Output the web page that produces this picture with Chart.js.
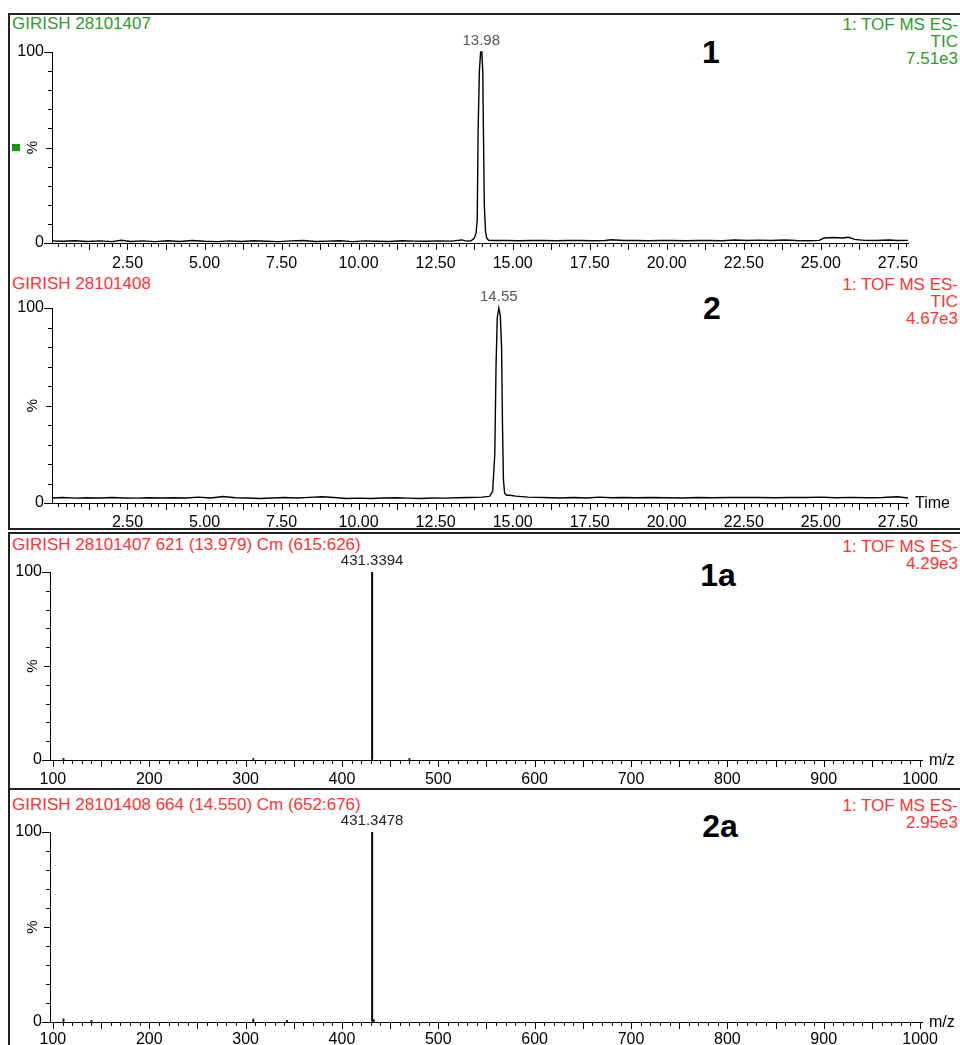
<!DOCTYPE html>
<html lang="en">
<head>
<meta charset="UTF-8">
<title>GIRISH TIC and spectra</title>
<script src="https://cdn.jsdelivr.net/npm/chart.js@4.4.0/dist/chart.umd.min.js"></script>
<style>
  body { margin: 0; background: #fff; }
  #page { position: relative; width: 960px; height: 1045px; overflow: hidden;
          font-family: "Liberation Sans", Arial, sans-serif; font-size: 17px; }
  .txt { position: absolute; left: 12px; line-height: 18px; white-space: nowrap; }
  .rt { position: absolute; right: 2px; text-align: right; line-height: 17px; white-space: nowrap; }
  .num { position: absolute; font-weight: bold; font-size: 32px; line-height: 36px; transform: translateX(-50%); }
  .ln { position: absolute; background: #222; }
  .green { color: #2c9c2c; }
  .red { color: #ff3333; }
  canvas { position: absolute; left: 0; }
</style>
</head>
<body>
<div id="page">
  <div class="ln" style="left:8px;top:13px;width:952px;height:2px"></div>
  <div class="ln" style="left:8px;top:13px;width:2px;height:517px"></div>
  <div class="ln" style="left:8px;top:528px;width:952px;height:2px"></div>
  <div class="ln" style="left:8px;top:532px;width:952px;height:2px"></div>
  <div class="ln" style="left:8px;top:532px;width:2px;height:513px"></div>
  <div class="ln" style="left:8px;top:788px;width:952px;height:2px"></div>
  <div style="position:absolute;left:12px;top:144px;width:8px;height:7px;background:#119911"></div>

  <div class="txt green" style="top:15px">GIRISH 28101407</div>
  <div class="rt green" style="top:16px">1: TOF MS ES-<br>TIC<br>7.51e3</div>
  <div class="num" style="left:711px;top:34px">1</div>

  <div class="txt red" style="top:275px">GIRISH 28101408</div>
  <div class="rt red" style="top:276px">1: TOF MS ES-<br>TIC<br>4.67e3</div>
  <div class="num" style="left:712px;top:290px">2</div>

  <div class="txt red" style="top:536px">GIRISH 28101407 621 (13.979) Cm (615:626)</div>
  <div class="rt red" style="top:538px">1: TOF MS ES-<br>4.29e3</div>
  <div class="num" style="left:718px;top:557px">1a</div>

  <div class="txt red" style="top:796px">GIRISH 28101408 664 (14.550) Cm (652:676)</div>
  <div class="rt red" style="top:797px">1: TOF MS ES-<br>2.95e3</div>
  <div class="num" style="left:720px;top:808px">2a</div>

  <canvas id="c1" width="960" height="245" style="top:30px"></canvas>
  <canvas id="c2" width="960" height="249" style="top:286px"></canvas>
  <canvas id="c3" width="960" height="240" style="top:550px"></canvas>
  <canvas id="c4" width="960" height="235" style="top:810px"></canvas>
</div>

<script>
// TIC 1 (28101407), time in min / % of max
const chromTime1 = [
  0.05, 0.4, 0.8, 1.2, 1.6, 2.0, 2.3, 2.6, 3.0, 3.4,
  3.8, 4.2, 4.6, 5.0, 5.4, 5.8, 6.2, 6.6, 7.0, 7.4,
  7.8, 8.2, 8.6, 9.0, 9.4, 9.8, 10.2, 10.6, 11.0, 11.4,
  11.8, 12.2, 12.6, 13.0, 13.35, 13.5, 13.65, 13.75, 13.81, 13.85,
  13.88, 13.92, 13.96, 14.0, 14.03, 14.05, 14.08, 14.12, 14.16, 14.22,
  14.4, 14.8, 15.2, 15.6, 16.0, 16.4, 16.8, 17.2, 17.6, 18.0,
  18.2, 18.6, 19.0, 19.4, 19.8, 20.2, 20.6, 21.0, 21.4, 21.8,
  22.2, 22.6, 23.0, 23.4, 23.8, 24.2, 24.6, 24.95, 25.1, 25.4,
  25.7, 25.9, 26.1, 26.4, 26.8, 27.2, 27.5, 27.83
];
const chromPct1 = [
  1.1, 0.9, 1.2, 0.8, 1.1, 0.7, 1.4, 0.8, 1.1, 0.7,
  1.2, 0.8, 1.3, 0.9, 0.7, 1.1, 0.8, 1.2, 0.9, 0.7,
  1.1, 1.3, 0.8, 1.0, 1.2, 0.7, 1.1, 0.9, 0.8, 1.2,
  1.0, 0.9, 1.1, 1.0, 1.6, 1.0, 1.2, 2.5, 5.0, 12.0,
  60, 90, 100, 100, 90, 60, 20, 6, 2.5, 1.4,
  1.3, 1.3, 1.2, 1.3, 1.3, 1.2, 1.3, 1.3, 1.2, 1.3,
  1.7, 1.3, 1.3, 1.2, 1.3, 1.3, 1.2, 1.3, 1.3, 1.2,
  1.6, 1.3, 1.5, 1.3, 1.6, 1.3, 1.2, 1.4, 2.6, 2.9,
  2.6, 3.0, 1.9, 1.4, 1.3, 1.6, 1.3, 1.4
];

// TIC 2 (28101408)
const chromTime2 = [
  0.05, 0.4, 0.8, 1.2, 1.6, 2.0, 2.4, 2.8, 3.2, 3.6,
  4.0, 4.4, 4.8, 5.2, 5.6, 6.0, 6.4, 6.8, 7.2, 7.6,
  8.0, 8.4, 8.8, 9.2, 9.6, 10.0, 10.4, 10.8, 11.2, 11.6,
  12.0, 12.4, 12.8, 13.2, 13.6, 14.0, 14.25, 14.35, 14.42, 14.46,
  14.5, 14.55, 14.6, 14.64, 14.67, 14.7, 14.74, 14.8, 14.9, 15.1,
  15.5, 16.0, 16.5, 17.0, 17.4, 17.8, 18.2, 18.6, 19.0, 19.5,
  20.0, 20.5, 21.0, 21.5, 22.0, 22.5, 23.0, 23.5, 24.0, 24.5,
  25.0, 25.5, 26.0, 26.5, 27.0, 27.5, 27.83
];
const chromPct2 = [
  2.6, 2.8, 2.5, 2.7, 2.6, 2.8, 2.6, 2.5, 2.7, 2.6,
  2.7, 2.6, 3.0, 2.6, 3.3, 2.7, 2.6, 2.3, 2.6, 2.8,
  2.6, 2.9, 3.2, 2.8, 2.3, 2.5, 2.3, 2.6, 2.7, 2.5,
  2.3, 2.6, 2.5, 2.7, 2.8, 3.0, 3.4, 6, 25, 70,
  95, 100, 96, 80, 40, 12, 5, 4, 4, 3.5,
  3.0, 2.8, 2.6, 2.8, 2.6, 3.0, 2.7, 2.8, 2.7, 2.8,
  2.7, 2.6, 2.8, 2.7, 2.8, 2.9, 2.8, 2.7, 2.8, 2.8,
  3.0, 2.7, 2.9, 2.7, 2.8, 3.2, 2.6
];

// spectra (m/z, % of base peak)
const specMz1 = [111, 308, 431.3394, 470];
const specPct1 = [0.8, 0.8, 100, 0.8];
const specMz2 = [111, 140, 308, 343, 431.3478, 433];
const specPct2 = [1.6, 0.8, 1.6, 0.8, 100, 1.2];

const peakTimes = [13.98, 14.55];
const peakMzs = [431.3394, 431.3478];

const timeTicks = [2.5, 5, 7.5, 10, 12.5, 15, 17.5, 20, 22.5, 25, 27.5];
const mzTicks = [100, 200, 300, 400, 500, 600, 700, 800, 900, 1000];
const pctTicks = [0, 100];

const FONT = '"Liberation Sans", Arial, sans-serif';
Chart.defaults.font.family = FONT;
Chart.defaults.font.size = 16;
Chart.defaults.color = '#000';

// tick marks, % label, peak label and axis name
const axisMarks = {
  id: 'axisMarks',
  afterDraw(chart, args, o) {
    const ctx = chart.ctx;
    const xs = chart.scales.x, ys = chart.scales.y;
    const y0 = ys.getPixelForValue(0);
    ctx.save();
    ctx.strokeStyle = '#000';
    ctx.lineWidth = 1;
    ctx.beginPath();
    const n0 = Math.ceil(xs.min / o.minor - 1e-6), n1 = Math.floor(xs.max / o.minor + 1e-6);
    for (let n = n0; n <= n1; n++) {
      const v = n * o.minor;
      const big = Math.abs(v / o.major - Math.round(v / o.major)) < 1e-6;
      const px = Math.round(xs.getPixelForValue(v)) + 0.5;
      ctx.moveTo(px, y0);
      ctx.lineTo(px, y0 + (big ? 7 : 4));
    }
    for (let v = 0; v <= 100; v += 10) {
      const py = Math.round(ys.getPixelForValue(v)) + 0.5;
      const len = (v === 0 || v === 100) ? 8 : (v === 50 ? 6 : 4);
      ctx.moveTo(ys.right, py);
      ctx.lineTo(ys.right - len, py);
    }
    ctx.stroke();

    ctx.fillStyle = '#000';
    ctx.font = '16px ' + FONT;
    ctx.textBaseline = 'middle';
    if (o.name) {
      ctx.textAlign = 'left';
      ctx.fillText(o.name, xs.right + 7, y0 + 1);
    }
    ctx.font = '15px ' + FONT;
    ctx.fillStyle = o.peakColor;
    ctx.textAlign = 'center';
    ctx.fillText(o.peakText, xs.getPixelForValue(o.peak), ys.getPixelForValue(100) - 11);

    ctx.fillStyle = '#000';
    ctx.translate(33, ys.getPixelForValue(50));
    ctx.rotate(-Math.PI / 2);
    ctx.fillText('%', 0, 0);
    ctx.restore();
  }
};

function toPoints(xs, ys) {
  return xs.map((x, i) => ({ x: x, y: ys[i] }));
}

function panel(id, g) {
  const isSpec = g.kind === 'spec';
  const dataset = isSpec
    ? { data: toPoints(g.x, g.y), backgroundColor: '#000', borderWidth: 0, barThickness: 1.3 }
    : { data: toPoints(g.x, g.y), borderColor: '#000', borderWidth: 1.4, pointRadius: 0, tension: 0, fill: false, clip: 4 };
  const canvas = document.getElementById(id);
  new Chart(canvas, {
    type: isSpec ? 'bar' : 'line',
    data: { datasets: [dataset] },
    plugins: [axisMarks],
    options: {
      responsive: false,
      animation: false,
      events: [],
      layout: { padding: { top: 22, right: 960 - g.right, left: 0, bottom: 0 } },
      plugins: {
        legend: { display: false },
        tooltip: { enabled: false },
        axisMarks: {
          minor: isSpec ? 10 : 0.25,
          major: isSpec ? 50 : 1.25,
          name: g.name,
          peak: g.peak,
          peakText: isSpec ? g.peak.toFixed(4) : g.peak.toFixed(2),
          peakColor: isSpec ? '#222' : '#555'
        }
      },
      scales: {
        x: {
          type: 'linear',
          min: g.min,
          max: g.max,
          offset: false,
          afterFit: s => { s.height = canvas.height - 22 - g.plotH; },
          afterBuildTicks: s => { s.ticks = (isSpec ? mzTicks : timeTicks).map(v => ({ value: v })); },
          grid: { display: true, drawOnChartArea: false, drawTicks: false, offset: false },
          border: { display: true, color: '#000', width: 1 },
          ticks: {
            autoSkip: false, maxRotation: 0, padding: g.labelPad, color: '#000',
            callback: v => isSpec ? String(v) : v.toFixed(2)
          }
        },
        y: {
          min: 0,
          max: 100,
          afterFit: s => { s.width = g.left; },
          afterBuildTicks: s => { s.ticks = pctTicks.map(v => ({ value: v })); },
          grid: { display: true, drawOnChartArea: false, drawTicks: false },
          border: { display: true, color: '#000', width: 1 },
          ticks: { padding: 8, color: '#000', callback: v => String(v) }
        }
      }
    }
  });
}

panel('c1', { kind: 'chrom', x: chromTime1, y: chromPct1, min: 0.05, max: 27.83,
  left: 52, right: 908, plotH: 191, labelPad: 11, peak: peakTimes[0] });
panel('c2', { kind: 'chrom', x: chromTime2, y: chromPct2, min: 0.05, max: 27.83,
  left: 52, right: 908, plotH: 195, labelPad: 10, peak: peakTimes[1], name: 'Time' });
panel('c3', { kind: 'spec', x: specMz1, y: specPct1, min: 97, max: 1002,
  left: 50, right: 922, plotH: 188, labelPad: 10, peak: peakMzs[0], name: 'm/z' });
panel('c4', { kind: 'spec', x: specMz2, y: specPct2, min: 97, max: 1002,
  left: 50, right: 922, plotH: 190, labelPad: 8, peak: peakMzs[1], name: 'm/z' });
</script>
</body>
</html>
